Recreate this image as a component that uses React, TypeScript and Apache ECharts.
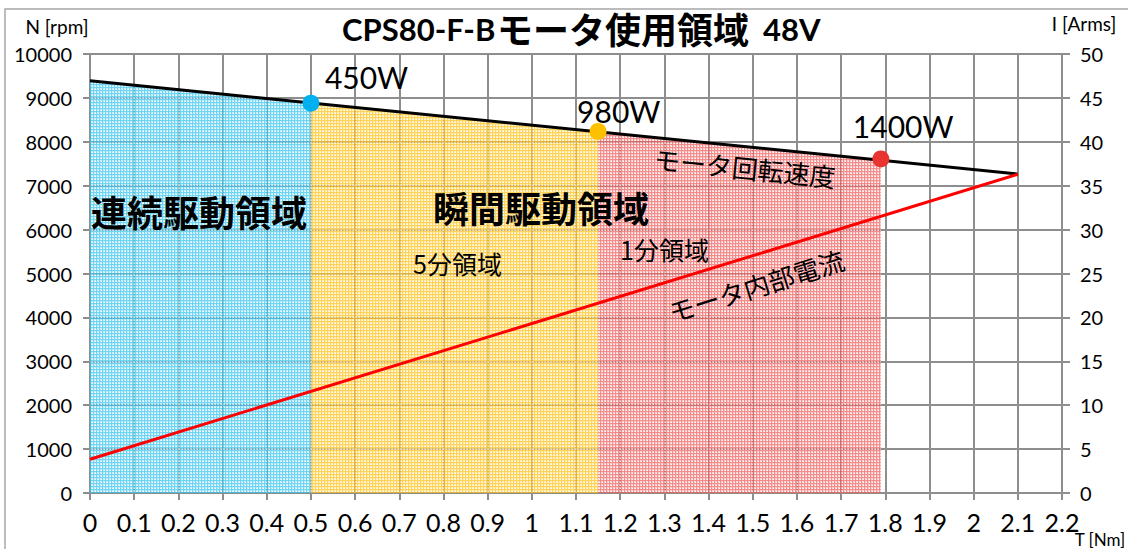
import React, { useEffect, useRef } from "react";
import * as echarts from "echarts";

// ---- data ----
const speedLine: number[][] = [[0, 9390], [2.1, 7265]];
const currentLine: number[][] = [[0, 3.85], [2.1, 36.3]];
const continuousArea: number[][] = [[0, 9390], [0.5, 8884]];
const fiveMinArea: number[][] = [[0.5, 8884], [1.15, 8226]];
const oneMinArea: number[][] = [[1.15, 8226], [1.79, 7579]];
const powerPoints: number[][] = [[0.5, 8880], [1.15, 8235], [1.79, 7610]];
const powerLabels: string[] = ["450W", "980W", "1400W"];
const pointColors: string[] = ["#00b0f0", "#ffc000", "#e8332e"];
const labelOffsets: number[][] = [[14, -26], [-21, -20], [-28, -33]];

const LATIN = "Lato, 'Noto Sans', sans-serif";
const CJK = "'Noto Sans CJK JP', 'Noto Sans', sans-serif";
const GRID = "#8e8e8e";

function makePattern(strong: string, light: string) {
  const c = document.createElement("canvas");
  c.width = 3;
  c.height = 3;
  const ctx = c.getContext("2d")!;
  ctx.fillStyle = light;
  ctx.fillRect(0, 0, 3, 3);
  ctx.fillStyle = strong;
  ctx.fillRect(0, 0, 3, 1);
  ctx.fillRect(0, 0, 1, 3);
  ctx.fillStyle = "#ffffff";
  ctx.fillRect(2, 2, 1, 1);
  return { image: c, repeat: "repeat", imageWidth: 3, imageHeight: 3 } as any;
}

export default function App() {
  const ref = useRef<HTMLDivElement>(null);
  useEffect(() => {
    document.body.style.margin = "0";
    const chart = echarts.init(ref.current!, null, { renderer: "svg" });
    const areaSeries = (data: number[][], strong: string, light: string) => ({
      type: "line",
      data,
      symbol: "none",
      lineStyle: { width: 0 },
      areaStyle: { color: makePattern(strong, light), opacity: 0.72 },
      z: 1,
      silent: true,
    });
    chart.setOption({
      animation: false,
      backgroundColor: "#ffffff",
      grid: { left: 90, right: 66, top: 54, bottom: 56 },
      xAxis: {
        type: "value",
        min: 0,
        max: 2.2,
        interval: 0.1,
        axisLine: { show: true, lineStyle: { color: GRID, width: 2 } },
        axisTick: { show: true, length: 7, lineStyle: { color: GRID, width: 2 } },
        splitLine: { show: true, lineStyle: { color: GRID, width: 2 } },
        axisLabel: {
          margin: 16,
          fontSize: 25,
          fontFamily: LATIN,
          color: "#000",
          formatter: (v: number) => String(Math.round(v * 10) / 10),
        },
      },
      yAxis: [
        {
          type: "value",
          min: 0,
          max: 10000,
          interval: 1000,
          axisLine: { show: true, lineStyle: { color: GRID, width: 2 } },
          axisTick: { show: true, length: 7, lineStyle: { color: GRID, width: 2 } },
          splitLine: { show: true, lineStyle: { color: GRID, width: 2 } },
          axisLabel: {
            margin: 18,
            fontSize: 20,
            fontFamily: LATIN,
            color: "#000",
            formatter: (v: number) => String(v),
          },
        },
        {
          type: "value",
          min: 0,
          max: 50,
          interval: 5,
          position: "right",
          axisLine: { show: true, lineStyle: { color: GRID, width: 2 } },
          axisTick: { show: true, length: 8, lineStyle: { color: GRID, width: 2 } },
          splitLine: { show: false },
          axisLabel: {
            margin: 18,
            fontSize: 20,
            fontFamily: LATIN,
            color: "#000",
            formatter: (v: number) => String(v),
          },
        },
      ],
      series: [
        areaSeries(continuousArea, "#36c6ee", "#b0e6f6"),
        areaSeries(fiveMinArea, "#ffc21a", "#ffe8a0"),
        areaSeries(oneMinArea, "#f06060", "#fac0c0"),
        {
          type: "line",
          data: speedLine,
          symbol: "none",
          lineStyle: { color: "#000000", width: 3 },
          z: 3,
        },
        {
          type: "line",
          yAxisIndex: 1,
          data: currentLine,
          symbol: "none",
          lineStyle: { color: "#ff0000", width: 3 },
          z: 3,
        },
        {
          type: "scatter",
          symbolSize: 17,
          z: 5,
          itemStyle: { opacity: 1 },
          data: powerPoints.map((p, i) => ({
            value: p,
            itemStyle: { color: pointColors[i], opacity: 1 },
            label: {
              show: true,
              formatter: powerLabels[i],
              position: "inside",
              align: "left",
              verticalAlign: "middle",
              offset: labelOffsets[i],
              fontSize: 30,
              fontFamily: LATIN,
              color: "#000",
              opacity: 1,
            },
          })),
        },
      ],
      graphic: [
        {
          type: "rect",
          shape: { x: 5, y: 9, width: 1300, height: 700 },
          style: { fill: "none", stroke: "#a6a6a6", lineWidth: 1.5 },
          silent: true,
          z: -10,
        },
        {
          type: "text",
          x: 342,
          y: 29,
          style: { text: "CPS80-F-B", font: `bold 31px ${LATIN}`, fill: "#000", align: "left", verticalAlign: "middle" },
        },
        {
          type: "text",
          x: 497,
          y: 28,
          style: { text: "モータ使用領域", font: `bold 36px ${CJK}`, fill: "#000", align: "left", verticalAlign: "middle" },
        },
        {
          type: "text",
          x: 763,
          y: 29,
          style: { text: "48V", font: `bold 31px ${LATIN}`, fill: "#000", align: "left", verticalAlign: "middle" },
        },
        {
          type: "text",
          x: 57,
          y: 26,
          style: { text: "N [rpm]", font: `19px ${LATIN}`, fill: "#000", align: "center", verticalAlign: "middle" },
        },
        {
          type: "text",
          x: 1084,
          y: 23,
          style: { text: "I [Arms]", font: `19px ${LATIN}`, fill: "#000", align: "center", verticalAlign: "middle" },
        },
        {
          type: "text",
          x: 1100,
          y: 539,
          style: { text: "T [Nm]", font: `17px ${LATIN}`, fill: "#000", align: "center", verticalAlign: "middle" },
        },
        {
          type: "text",
          x: 91,
          y: 211,
          z: 10,
          style: { text: "連続駆動領域", font: `bold 36px ${CJK}`, fill: "#000", align: "left", verticalAlign: "middle" },
        },
        {
          type: "text",
          x: 433,
          y: 207,
          z: 10,
          style: { text: "瞬間駆動領域", font: `bold 36px ${CJK}`, fill: "#000", align: "left", verticalAlign: "middle" },
        },
        {
          type: "text",
          x: 413,
          y: 263,
          z: 10,
          style: { text: "5分領域", font: `25px ${CJK}`, fill: "#000", align: "left", verticalAlign: "middle" },
        },
        {
          type: "text",
          x: 620,
          y: 249,
          z: 10,
          style: { text: "1分領域", font: `25px ${CJK}`, fill: "#000", align: "left", verticalAlign: "middle" },
        },
        {
          type: "text",
          x: 745,
          y: 167,
          rotation: -0.1,
          z: 10,
          style: { text: "モータ回転速度", font: `26px ${CJK}`, fill: "#000", align: "center", verticalAlign: "middle" },
        },
        {
          type: "text",
          x: 756,
          y: 285,
          rotation: 0.3,
          z: 10,
          style: { text: "モータ内部電流", font: `26px ${CJK}`, fill: "#000", align: "center", verticalAlign: "middle" },
        },
      ],
    });
    return () => chart.dispose();
  }, []);
  return <div ref={ref} style={{ width: 1128, height: 549 }} />;
}
